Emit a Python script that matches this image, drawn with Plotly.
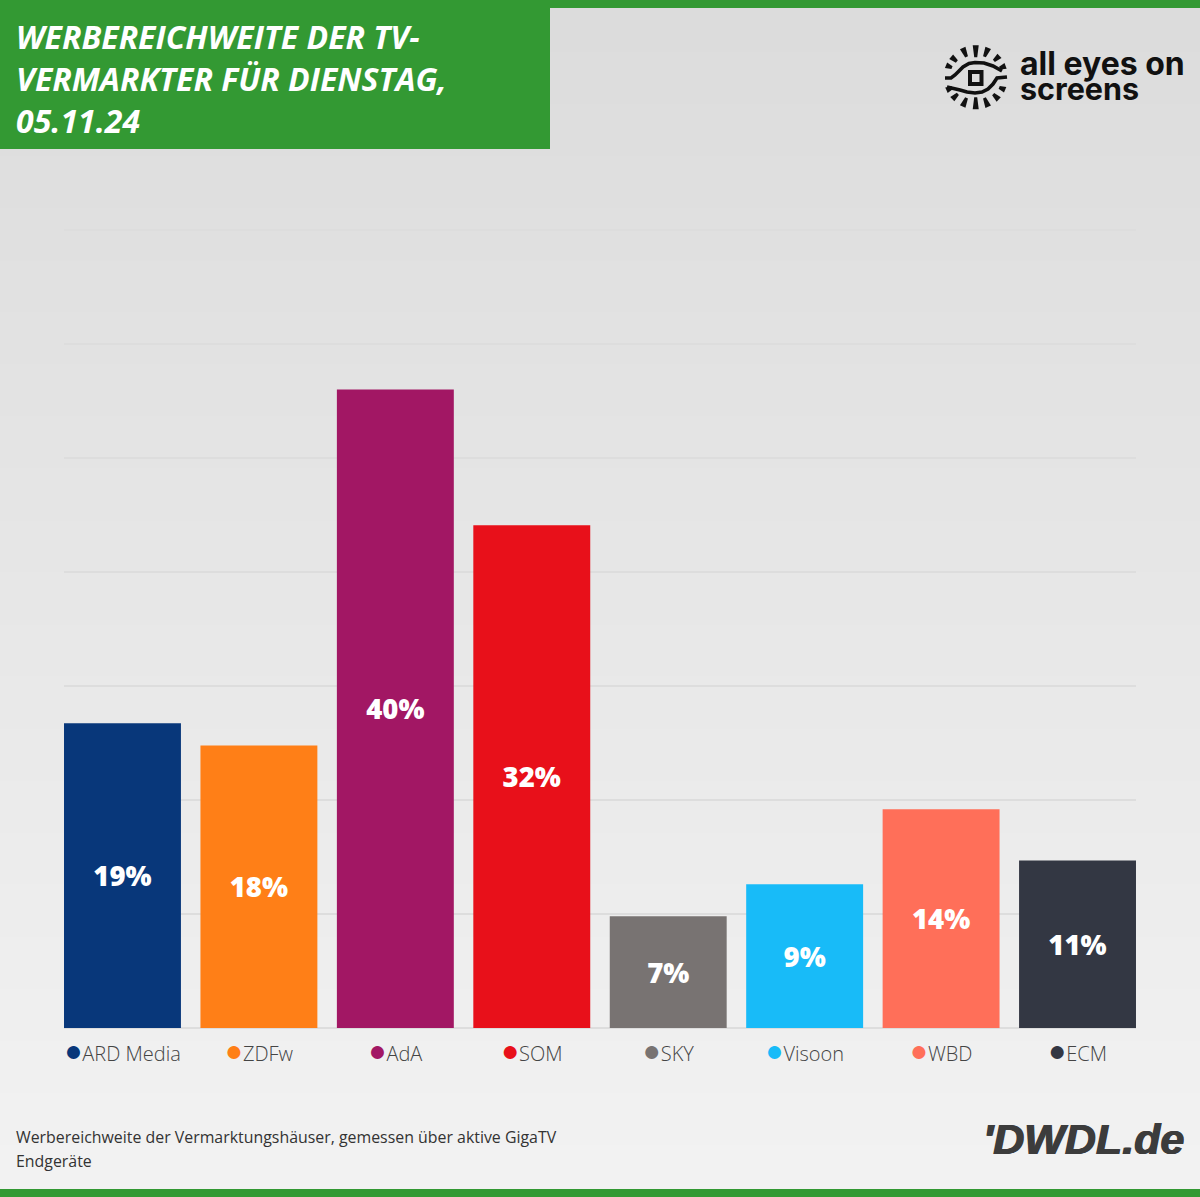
import math
import plotly.graph_objects as go

W = 1200
H = 1197

# values
vermarkter = ["ARD Media", "ZDFw", "AdA", "SOM", "SKY", "Visoon", "WBD", "ECM"]
reichweite = [19.1, 17.7, 40.0, 31.5, 7.0, 9.0, 13.7, 10.5]
labels = ["19%", "18%", "40%", "32%", "7%", "9%", "14%", "11%"]
farben = ["#08377A", "#FF7F17", "#A21764", "#E8101A", "#787372", "#18BBF8", "#FF6F59", "#333743"]
titel = ["WERBEREICHWEITE DER TV-", "VERMARKTER FÜR DIENSTAG,", "05.11.24"]
fussnote = ["Werbereichweite der Vermarktungshäuser, gemessen über aktive GigaTV", "Endgeräte"]

GREEN = "#339933"
LOGO = "#111111"
# plot area runs 2px above the top gridline, plotly drops a gridline sitting on the edge
PLOT_L, PLOT_R, PLOT_T, PLOT_B = 64, 1136, 228, 1028


# page pixels to paper fractions (paper is the plot area)
def px(x, y):
    return (x - PLOT_L) / (PLOT_R - PLOT_L), (PLOT_B - y) / (PLOT_B - PLOT_T)


def path(points, close=True):
    parts = []
    for i, (x, y) in enumerate(points):
        fx, fy = px(x, y)
        parts.append(("M" if i == 0 else "L") + f"{fx:.5f},{fy:.5f}")
    return " ".join(parts) + (" Z" if close else "")


def box(x0, y0, x1, y1, color):
    fx0, fy0 = px(x0, y0)
    fx1, fy1 = px(x1, y1)
    return dict(type="rect", xref="paper", yref="paper", x0=fx0, y0=fy0, x1=fx1, y1=fy1,
                fillcolor=color, line_width=0, layer="below")


shapes = []

# background gradient, one band per grey level
grey_top, grey_bottom = 220, 242
n = grey_bottom - grey_top + 1
for i in range(n):
    g = grey_top + i
    shapes.append(box(0, H * i / n, W, H * (i + 1) / n + 1, f"rgb({g},{g},{g})"))

shapes.append(box(0, 0, W, 8, GREEN))
shapes.append(box(0, 1189, W, H, GREEN))
shapes.append(box(0, 0, 550, 149, GREEN))

# eye logo
cx, cy = 975.7, 77.3
ray_angles = [158, 140, 114, 90, 67, 42, 21, -156, -137, -114, -90, -67, -44, -23]
for a in ray_angles:
    r = math.radians(a)
    ux, uy = math.cos(r), -math.sin(r)
    nx, ny = -uy, ux
    r0, r1 = 20 + 6 * abs(ux), 32
    pts = [(cx + ux * r0 + nx * 1.5, cy + uy * r0 + ny * 1.5),
           (cx + ux * r1 + nx * 3, cy + uy * r1 + ny * 3),
           (cx + ux * r1 - nx * 3, cy + uy * r1 - ny * 3),
           (cx + ux * r0 - nx * 1.5, cy + uy * r0 - ny * 1.5)]
    shapes.append(dict(type="path", xref="paper", yref="paper", path=path(pts),
                       fillcolor=LOGO, line_width=0))

lid_top = [(945, 78), (951, 78), (955, 75), (959, 71), (963, 67), (969, 63.5), (975, 62.5), (984, 63), (993, 66), (1002, 71)]
lid_bottom = [(1007, 77), (997, 78), (993, 84), (988, 89), (982, 92), (975, 93), (967, 92), (960, 90), (947, 87)]
for lid in (lid_top, lid_bottom):
    shapes.append(dict(type="path", xref="paper", yref="paper", path=path(lid, close=False),
                       fillcolor="rgba(0,0,0,0)", line=dict(color=LOGO, width=3.6)))
fx0, fy0 = px(970, 72)
fx1, fy1 = px(981.5, 84)
shapes.append(dict(type="rect", xref="paper", yref="paper", x0=fx0, y0=fy0, x1=fx1, y1=fy1,
                   fillcolor="rgba(0,0,0,0)", line=dict(color=LOGO, width=4)))

annotations = []


def text(s, x, y, size, color, family="Open Sans", weight=400, style="normal", anchor="left", shadow="none"):
    fx, fy = px(x, y)
    annotations.append(dict(text=s, x=fx, y=fy, xref="paper", yref="paper", xanchor=anchor, yanchor="middle",
                            showarrow=False, borderpad=0,
                            font=dict(family=family, size=size, color=color, weight=weight, style=style, shadow=shadow)))


for i, t in enumerate(titel):
    text(t, 14.5, 36 + 42 * i, 32, "#FFFFFF", weight=700, style="italic")
for i, t in enumerate(fussnote):
    text(t, 15, 1137 + 24 * i, 15.9, "#333333")
text("all eyes on", 1018.5, 64, 32, LOGO, family="Inter", weight=700)
text("screens", 1018.5, 89, 30.5, LOGO, family="Inter", weight=700)
text("'DWDL.de", 1185, 1139, 43, "#3C3C3C", family="Liberation Sans", weight=700, style="italic", anchor="right",
     shadow="0.7px 0 0 #3C3C3C, -0.7px 0 0 #3C3C3C")

ticktext = [f'<span style="color:{c};font-size:30px">●</span>{v}' for v, c in zip(vermarkter, farben)]

fig = go.Figure(go.Bar(
    x=vermarkter,
    y=reichweite,
    text=labels,
    textposition="inside",
    insidetextanchor="middle",
    textangle=0,
    textfont=dict(family="Open Sans", size=27.5, color="#FFFFFF", weight=800),
    marker=dict(color=farben, line_width=0),
    hoverinfo="skip",
))

fig.update_layout(
    width=W,
    height=H,
    margin=dict(l=PLOT_L, r=W - PLOT_R, t=PLOT_T, b=H - PLOT_B, autoexpand=False),
    paper_bgcolor="#EEEEEE",
    plot_bgcolor="rgba(0,0,0,0)",
    bargap=0.143,
    showlegend=False,
    shapes=shapes,
    annotations=annotations,
)
fig.update_xaxes(
    type="category",
    range=[-0.4286, 7.4286],
    tickvals=vermarkter,
    ticktext=ticktext,
    tickfont=dict(family="Open Sans", size=20, color="#444444", weight=300),
    ticks="outside",
    ticklen=8,
    tickcolor="rgba(0,0,0,0)",
    showgrid=False,
    showline=False,
    zeroline=False,
)
fig.update_yaxes(
    range=[0, 50.125],
    tick0=0,
    dtick=50 / 7,
    showticklabels=False,
    gridcolor="#DDDDDD",
    gridwidth=1.5,
    zeroline=True,
    zerolinecolor="#DDDDDD",
    zerolinewidth=2,
)

fig.write_html("out.html", config={"displayModeBar": False},
               post_script="document.body.style.margin='0';")
